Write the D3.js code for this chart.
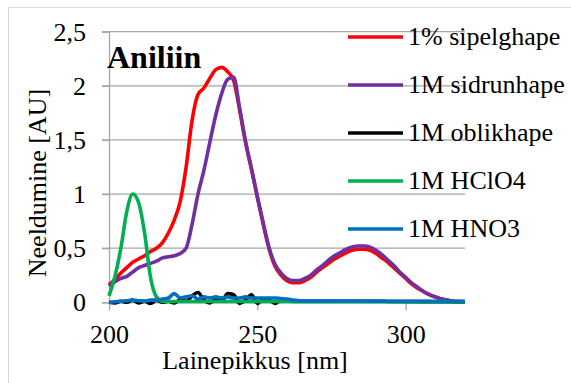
<!DOCTYPE html>
<html>
<head>
<meta charset="utf-8">
<style>
  body { margin: 0; background: #fff; }
  svg text { font-family: "Liberation Serif", serif; }
</style>
</head>
<body>
<script src="https://cdn.jsdelivr.net/npm/d3@7"></script>
<script>
// wavelength, nm (2 nm steps)
var wavelengths = [200,202,204,206,208,210,212,214,216,218,220,222,224,226,228,230,232,234,236,238,
  240,242,244,246,248,250,252,254,256,258,260,262,264,266,268,270,272,274,276,278,
  280,282,284,286,288,290,292,294,296,298,300,302,304,306,308,310,312,314,316,318,320];

var sipelghape = [0.16,0.21,0.27,0.32,0.37,0.40,0.43,0.47,0.50,0.55,0.64,0.76,0.93,1.25,1.68,1.92,1.98,2.07,2.15,2.17,
  2.13,2.05,1.78,1.48,1.23,0.97,0.72,0.49,0.33,0.25,0.20,0.18,0.18,0.20,0.23,0.28,0.32,0.36,0.40,0.43,
  0.46,0.48,0.49,0.49,0.48,0.45,0.41,0.37,0.32,0.27,0.22,0.17,0.13,0.10,0.07,0.05,0.03,0.02,0.01,0.006,0.004];

var sidrunhape = [0.15,0.19,0.22,0.24,0.28,0.32,0.34,0.36,0.38,0.41,0.42,0.43,0.45,0.50,0.72,1.00,1.22,1.48,1.73,1.93,
  2.06,2.08,1.80,1.49,1.24,0.98,0.73,0.50,0.35,0.27,0.22,0.20,0.20,0.22,0.25,0.30,0.34,0.39,0.43,0.46,
  0.49,0.51,0.52,0.52,0.51,0.48,0.44,0.39,0.34,0.28,0.23,0.18,0.14,0.10,0.07,0.05,0.03,0.02,0.01,0.006,0.004];

var oblikhape = [0.00,-0.005,0.01,0.00,0.02,-0.005,0.01,-0.01,0.02,0.00,0.01,-0.005,0.02,0.01,0.06,0.09,0.02,-0.005,0.03,0.01,
  0.08,0.07,-0.01,0.02,0.07,-0.01,0.03,0.02,-0.01,0.02,0.01,0.01,0.01,0.01,0.01,0.01,0.01,0.01,0.01,0.01,
  0.01,0.01,0.01,0.01,0.01,0.01,0.01,0.008,0.008,0.008,0.008,0.007,0.007,0.006,0.006,0.005,0.005,0.005,0.005,0.005,0.005];

var hclo4 = [0.06,0.24,0.50,0.84,1.00,0.92,0.64,0.23,0.05,0.01,0.008,0.008,0.008,0.008,0.008,0.008,0.008,0.008,0.008,0.008,
  0.008,0.008,0.008,0.008,0.008,0.008,0.008,0.008,0.008,0.008,0.008,0.006,0.006,0.006,0.006,0.006,0.006,0.006,0.006,0.006,
  0.005,0.005,0.005,0.005,0.005,0.005,0.005,0.005,0.005,0.005,0.004,0.004,0.004,0.004,0.004,0.003,0.003,0.003,0.003,0.003,0.003];

var hno3 = [0.00,0.005,0.01,0.015,0.02,0.015,0.01,0.02,0.02,0.03,0.04,0.08,0.04,0.05,0.06,0.03,0.05,0.04,0.05,0.04,
  0.05,0.04,0.04,0.05,0.04,0.04,0.04,0.04,0.04,0.035,0.03,0.02,0.015,0.012,0.012,0.012,0.012,0.012,0.012,0.012,
  0.012,0.012,0.012,0.011,0.011,0.011,0.01,0.01,0.01,0.01,0.01,0.01,0.01,0.01,0.01,0.01,0.01,0.01,0.01,0.01,0.01];

var seriesNames = ["1% sipelghape", "1M sidrunhape", "1M oblikhape", "1M HClO4", "1M HNO3"];
var seriesValues = [sipelghape, sidrunhape, oblikhape, hclo4, hno3];
var seriesColors = ["#ff0000", "#7030a0", "#000000", "#00b050", "#0070c0"];

var xTicks = [200, 250, 300];
var yTicks = [0, 0.5, 1, 1.5, 2, 2.5];
var yTickLabels = ["0", "0,5", "1", "1,5", "2", "2,5"];

var svg = d3.select("body").append("svg")
    .attr("width", 571).attr("height", 383);

svg.append("rect").attr("x", 8.5).attr("y", 7.5).attr("width", 600).attr("height", 400)
    .attr("fill", "#fff").attr("stroke", "#d9d9d9");

var x = d3.scaleLinear().domain([200, 320]).range([109, 465]);
var y = d3.scaleLinear().domain([0, 2.5]).range([302.3, 31.7]);

// gridlines
svg.append("g").selectAll("line").data(yTicks.slice(1)).enter().append("line")
    .attr("x1", 102).attr("x2", 465)
    .attr("y1", function (d) { return y(d); }).attr("y2", function (d) { return y(d); })
    .attr("stroke", "#a6a6a6").attr("stroke-width", 1.3);

// y axis
var yAxis = d3.axisLeft(y).tickValues(yTicks).tickSize(7).tickPadding(16)
    .tickFormat(function (d, i) { return yTickLabels[i]; });
var gy = svg.append("g").attr("transform", "translate(109,0)").call(yAxis)
    .attr("font-family", "Liberation Serif").attr("font-size", 26);
gy.select(".domain").attr("stroke", "#a6a6a6").attr("stroke-width", 1.3);
gy.selectAll(".tick line").attr("stroke", "#a6a6a6").attr("stroke-width", 1.3);
gy.selectAll("text").attr("fill", "#000").attr("dy", "0.32em");

// x axis
var xAxis = d3.axisBottom(x).tickValues(xTicks).tickSize(8).tickPadding(14).tickSizeOuter(0);
var gx = svg.append("g").attr("transform", "translate(0,302.3)").call(xAxis)
    .attr("font-family", "Liberation Serif").attr("font-size", 26);
gx.select(".domain").attr("stroke", "#a6a6a6").attr("stroke-width", 1.3);
gx.selectAll(".tick line").attr("stroke", "#a6a6a6").attr("stroke-width", 1.3);
gx.selectAll("text").attr("fill", "#000");

// lines
var line = d3.line()
    .x(function (d, i) { return x(wavelengths[i]); })
    .y(function (d) { return y(d); })
    .curve(d3.curveMonotoneX);

svg.append("g").selectAll("path").data(seriesValues).enter().append("path")
    .attr("d", function (d) { return line(d); })
    .attr("fill", "none")
    .attr("stroke", function (d, i) { return seriesColors[i]; })
    .attr("stroke-width", 3.6)
    .attr("stroke-linejoin", "round");

// title inside plot
svg.append("text").attr("x", 107).attr("y", 68)
    .attr("font-family", "Liberation Serif").attr("font-size", 32).attr("font-weight", "bold")
    .text("Aniliin");

// axis titles
svg.append("text").attr("x", 255).attr("y", 369).attr("text-anchor", "middle")
    .attr("font-family", "Liberation Serif").attr("font-size", 26)
    .text("Lainepikkus [nm]");
svg.append("text").attr("transform", "translate(46,183) rotate(-90)").attr("text-anchor", "middle")
    .attr("font-family", "Liberation Serif").attr("font-size", 26)
    .text("Neeldumine [AU]");

// legend
var legend = svg.append("g").selectAll("g").data(seriesNames).enter().append("g")
    .attr("transform", function (d, i) { return "translate(348," + (37 + i * 48) + ")"; });
legend.append("line").attr("x1", 0).attr("x2", 55).attr("y1", 0).attr("y2", 0)
    .attr("stroke", function (d, i) { return seriesColors[i]; }).attr("stroke-width", 3.6);
legend.append("text").attr("x", 60).attr("y", 8)
    .attr("font-family", "Liberation Serif").attr("font-size", 26)
    .text(function (d) { return d; });
</script>
</body>
</html>
